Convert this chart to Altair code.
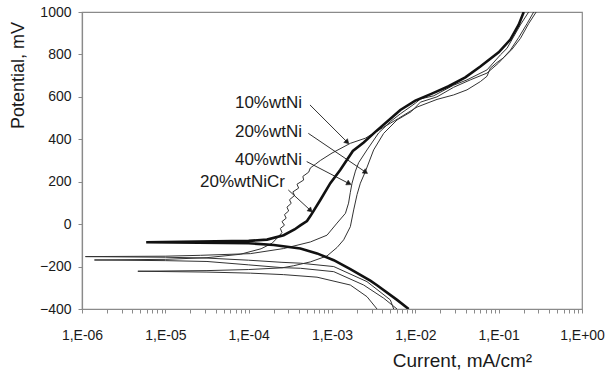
import math
import altair as alt
import pandas as pd

# ---------------- data ----------------
# current in mA/cm2, potential in mV; each path runs from the cathodic end (-400 mV)
# through the corrosion potential and up the anodic branch.
nicr20_i = [8.32e-3, 6.03e-3, 3.47e-3, 2.88e-3, 1.66e-3, 1.05e-3, 6.61e-4, 4.17e-4, 2.00e-4, 1.00e-4, 2.51e-5, 5.89e-6,
            2.51e-5, 1.00e-4, 1.66e-4, 2.63e-4, 3.55e-4, 4.17e-4, 5.01e-4, 5.50e-4, 7.24e-4, 9.55e-4, 1.26e-3,
            1.78e-3, 2.40e-3, 3.31e-3, 4.57e-3, 6.61e-3, 1.00e-2, 1.58e-2, 2.51e-2, 3.98e-2, 6.03e-2, 1.00e-1,
            1.38e-1, 1.74e-1, 2.00e-1]
nicr20_E = [-400, -357, -288, -266, -212, -170, -138, -115, -98, -90, -87, -85,
            -82, -79, -73, -52, -25, -6, 15, 38, 114, 193, 256,
            345, 385, 435, 483, 538, 582, 615, 650, 692, 743, 810,
            870, 940, 1000]

ni10_i = [6.03e-3, 4.17e-3, 2.40e-3, 1.05e-3, 4.17e-4, 2.51e-4, 1.00e-4, 3.16e-5, 1.00e-5, 1.41e-6,
          1.00e-5, 3.16e-5, 7.94e-5, 1.41e-4, 1.91e-4, 2.19e-4,
          2.51e-4, 2.40e-4, 2.69e-4, 2.51e-4, 2.82e-4, 2.69e-4, 3.02e-4, 2.88e-4, 3.24e-4, 3.09e-4,
          3.55e-4, 3.39e-4, 3.98e-4, 3.80e-4, 4.57e-4, 4.47e-4, 5.25e-4, 5.50e-4, 6.31e-4, 7.24e-4,
          1.00e-3, 1.66e-3, 2.51e-3, 4.37e-3, 6.31e-3, 1.05e-2, 1.82e-2, 2.88e-2, 4.17e-2, 6.03e-2,
          7.24e-2, 7.94e-2, 9.55e-2, 1.15e-1, 1.45e-1, 1.82e-1, 2.29e-1, 2.82e-1]
ni10_E = [-400, -349, -287, -224, -208, -205, -192, -176, -172, -169,
          -166, -158, -142, -116, -90, -66,
          -40, -20, -5, 12, 28, 45, 62, 80, 98, 115,
          135, 152, 170, 188, 208, 225, 245, 265, 282, 300,
          335, 381, 405, 462, 499, 552, 588, 609, 633, 672,
          697, 735, 762, 785, 825, 875, 945, 1000]

ni40_i = [5.50e-3, 5.01e-3, 2.63e-3, 1.05e-3, 4.17e-4, 2.51e-4, 1.00e-4, 3.16e-5, 1.00e-5, 1.10e-6,
          1.00e-5, 2.63e-5, 1.05e-4, 2.63e-4, 5.50e-4, 8.71e-4, 1.15e-3, 1.45e-3, 1.58e-3, 1.66e-3,
          1.74e-3, 1.91e-3, 2.09e-3, 2.63e-3, 3.63e-3, 5.01e-3, 6.61e-3, 1.00e-2, 1.15e-2, 1.66e-2,
          2.88e-2, 4.17e-2, 7.24e-2, 1.05e-1, 1.26e-1, 1.82e-1, 2.29e-1]
ni40_E = [-400, -357, -271, -200, -184, -180, -170, -160, -156, -153,
          -151, -147, -139, -115, -84, -52, 5, 51, 99, 150,
          193, 250, 290, 350, 430, 483, 520, 570, 590, 605,
          655, 680, 727, 798, 829, 939, 1000]

ni20_i = [3.47e-3, 2.63e-3, 1.66e-3, 6.61e-4, 2.63e-4, 1.05e-4, 3.16e-5, 4.68e-6,
          3.16e-5, 1.00e-4, 2.51e-4, 3.47e-4, 5.50e-4, 8.71e-4, 1.15e-3, 1.38e-3, 1.66e-3, 1.82e-3,
          2.00e-3, 2.19e-3, 2.51e-3, 3.16e-3, 4.17e-3, 6.03e-3, 8.91e-3, 1.15e-2, 1.82e-2, 2.88e-2,
          4.57e-2, 7.24e-2, 1.00e-1, 1.38e-1, 1.74e-1, 2.19e-1, 2.63e-1]
ni20_E = [-400, -342, -287, -250, -238, -231, -226, -222,
          -219, -214, -206, -196, -178, -150, -110, -74, -12, 67,
          140, 193, 247, 350, 428, 491, 530, 575, 600, 645,
          680, 712, 760, 820, 880, 945, 1000]

labels = ["10%wtNi", "20%wtNi", "40%wtNi", "20%wtNiCr"]
label_i = [4.37e-4, 4.37e-4, 4.37e-4, 2.73e-4]
label_E = [571, 436, 303, 200]
arrow_i1 = [5.44e-4, 5.20e-4, 4.97e-4, 2.99e-4]
arrow_E1 = [562, 428, 295, 161]
arrow_i2 = [1.50e-3, 2.49e-3, 1.57e-3, 5.44e-4]
arrow_E2 = [389, 247, 193, 67]

x_tick_labels = ["1,E-06", "1,E-05", "1,E-04", "1,E-03", "1,E-02", "1,E-01", "1,E+00"]
y_ticks = [-400, -200, 0, 200, 400, 600, 800, 1000]

# ---------------- layout ----------------
W, H = 500, 297
XDOM = [1e-6, 1.0]
YDOM = [-400, 1000]
FONT = "Liberation Sans"
GREY = "#8a8a8a"
INK = "#1a1a1a"

rows = []
for name, xs, ys in [("10%wtNi", ni10_i, ni10_E), ("20%wtNi", ni20_i, ni20_E),
                     ("40%wtNi", ni40_i, ni40_E), ("20%wtNiCr", nicr20_i, nicr20_E)]:
    for k, (a, b) in enumerate(zip(xs, ys)):
        rows.append({"curve": name, "k": k, "i": a, "E": b})
curves = pd.DataFrame(rows)
thin = curves[curves.curve != "20%wtNiCr"]
thick = curves[curves.curve == "20%wtNiCr"]

px_dec = W / 6.0
px_mv = H / 1400.0

ann = pd.DataFrame({"label": labels, "i": label_i, "E": label_E})
arrows = pd.DataFrame({"i": arrow_i1, "E": arrow_E1, "i2": arrow_i2, "E2": arrow_E2})

x_tick_values = []
for d in range(-6, 0):
    for m in range(1, 10):
        x_tick_values.append(float(f"{m}e{d}"))
x_tick_values.append(1.0)

arr = "[" + ",".join("'" + s + "'" for s in x_tick_labels) + "]"
lg = "(log(datum.value)/LN10)"
label_expr = f"abs({lg} - round({lg})) < 0.001 ? {arr}[round({lg}) + 6] : ''"

xscale = alt.Scale(type="log", domain=XDOM, nice=False)
yscale = alt.Scale(domain=YDOM, nice=False, zero=False)

xaxis = alt.Axis(values=x_tick_values, labelExpr=label_expr, title="Current, mA/cm²",
                 grid=False, tickSize=4, labelPadding=15, labelOverlap=False, labelFlush=False,
                 titleX=380, titleY=51, titleAlign="center", titleBaseline="middle", titleFontSize=19)
yaxis = alt.Axis(values=y_ticks, format="d", title="Potential, mV", grid=False, tickSize=4,
                 labelPadding=7, titleX=-64, titleY=63, titleAngle=270, titleAlign="center",
                 titleBaseline="middle", titleFontSize=18)

X = alt.X("i:Q", scale=xscale, axis=xaxis)
Y = alt.Y("E:Q", scale=yscale, axis=yaxis)

thin_layer = alt.Chart(thin).mark_line(color="#333333", strokeWidth=1.0, clip=True).encode(
    x=X, y=Y, detail="curve:N", order="k:Q")
thick_layer = alt.Chart(thick).mark_line(color="#111111", strokeWidth=2.6, clip=True).encode(
    x=X, y=Y, order="k:Q")
rule_layer = alt.Chart(arrows).mark_rule(color=INK, strokeWidth=0.9).encode(
    x=X, y=Y, x2="i2:Q", y2="E2:Q")
text_layer = alt.Chart(ann).mark_text(align="right", baseline="middle", fontSize=17, font=FONT, color=INK).encode(
    x=X, y=Y, text="label:N")

head_layers = []
for a1, e1, a2, e2 in zip(arrow_i1, arrow_E1, arrow_i2, arrow_E2):
    dx = px_dec * (math.log10(a2) - math.log10(a1))
    dy = -px_mv * (e2 - e1)
    ang = math.degrees(math.atan2(dx, -dy)) % 360
    one = pd.DataFrame({"i": [a2], "E": [e2]})
    head_layers.append(
        alt.Chart(one).mark_point(shape="triangle", filled=True, fill=INK, stroke=INK, strokeWidth=0.5,
                                  opacity=1, size=28, angle=ang).encode(x=X, y=Y)
    )

chart = alt.layer(thin_layer, thick_layer, rule_layer, *head_layers, text_layer).properties(
    width=W, height=H,
    autosize=alt.AutoSizeParams(type="none"),
    padding={"left": 82, "top": 12, "right": 24, "bottom": 63},
    background="white",
).configure_view(stroke=GREY, strokeWidth=1.2).configure_axis(
    domainColor=GREY, tickColor=GREY, domainWidth=1.2, labelColor=INK, titleColor=INK,
    labelFont=FONT, titleFont=FONT, labelFontSize=14, titleFontWeight="normal",
)

chart.save("out.html", embed_options={"renderer": "svg", "actions": False})
